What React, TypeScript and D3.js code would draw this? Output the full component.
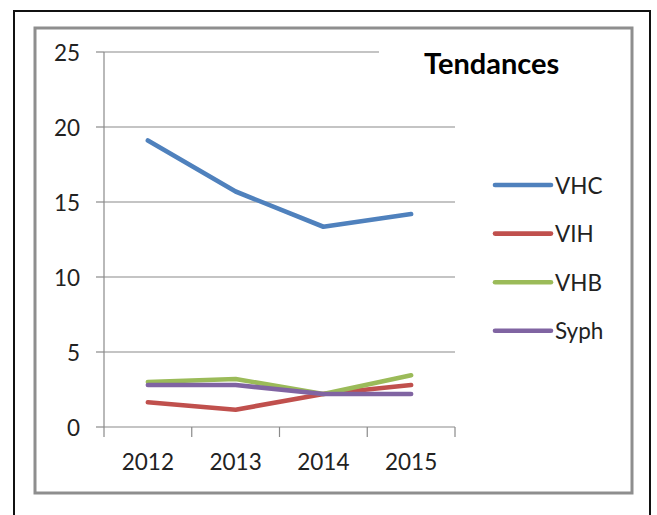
import React from 'react';
import * as d3 from 'd3';

const years = ['2012', '2013', '2014', '2015'];
const seriesNames = ['VHC', 'VIH', 'VHB', 'Syph'];
const vhc = [19.1, 15.7, 13.35, 14.2];
const vih = [1.65, 1.15, 2.2, 2.8];
const vhb = [3.0, 3.2, 2.2, 3.45];
const syph = [2.8, 2.8, 2.2, 2.2];
const yTicks = [0, 5, 10, 15, 20, 25];
const colors = ['#4F81BD', '#C0504D', '#9BBB59', '#8064A2'];

const FONT = 'Lato, "Open Sans", sans-serif';

const App: React.FC = () => {
  const width = 657;
  const height = 515;
  const left = 104;
  const right = 455;
  const top = 52;
  const bottom = 427;

  const x = d3.scaleBand<string>().domain(years).range([left, right]).padding(0);
  const y = d3.scaleLinear().domain([0, 25]).range([bottom, top]);
  const cx = (yr: string) => (x(yr) as number) + x.bandwidth() / 2;

  const allSeries = [vhc, vih, vhb, syph];
  // drawn so that VHC sits on top, like the original
  const drawOrder = [1, 2, 3, 0];

  const line = d3.line<number>()
    .x((_, i) => cx(years[i]))
    .y(d => y(d));

  const xTickPos = [...years.map(yr => x(yr) as number), right];

  return (
    <svg width={width} height={height} style={{ position: 'absolute', left: 0, top: 0, background: '#fff' }}>
      <rect x={14} y={11} width={636} height={520} fill="none" stroke="#111" strokeWidth={2} />
      <rect x={35} y={28} width={597} height={465} fill="none" stroke="#8e8e8e" strokeWidth={3} />

      {yTicks.map(t => (
        <g key={t}>
          {t > 0 && (
            <line x1={left} x2={t === 25 ? 379 : right} y1={y(t)} y2={y(t)} stroke="#8a8a8a" strokeWidth={1.2} />
          )}
          <line x1={96} x2={left} y1={y(t)} y2={y(t)} stroke="#8a8a8a" strokeWidth={1.2} />
          <text x={80} y={y(t)} textAnchor="end" dominantBaseline="central"
            fontFamily={FONT} fontSize={22.5} fill="#222">{t}</text>
        </g>
      ))}

      <line x1={left} x2={left} y1={top} y2={bottom} stroke="#8a8a8a" strokeWidth={1.2} />
      <line x1={left} x2={right} y1={bottom} y2={bottom} stroke="#8a8a8a" strokeWidth={1.2} />
      {xTickPos.map((p, i) => (
        <line key={i} x1={p} x2={p} y1={bottom} y2={bottom + 10} stroke="#8a8a8a" strokeWidth={1.2} />
      ))}
      {years.map(yr => (
        <text key={yr} x={cx(yr)} y={470} textAnchor="middle"
          fontFamily={FONT} fontSize={22.5} fill="#222">{yr}</text>
      ))}

      {drawOrder.map(i => (
        <path key={i} d={line(allSeries[i]) || ''} fill="none" stroke={colors[i]}
          strokeWidth={4.6} strokeLinecap="round" strokeLinejoin="round" />
      ))}

      <text x={424} y={74} fontFamily={FONT} fontSize={29} fontWeight="bold" fill="#000">Tendances</text>

      {seriesNames.map((name, i) => {
        const ly = 185 + i * 48.6;
        return (
          <g key={name}>
            <line x1={495} x2={551} y1={ly} y2={ly} stroke={colors[i]} strokeWidth={4.6} strokeLinecap="round" />
            <text x={555} y={ly} dominantBaseline="central" fontFamily={FONT} fontSize={22.5} fill="#222">{name}</text>
          </g>
        );
      })}
    </svg>
  );
};

export default App;
